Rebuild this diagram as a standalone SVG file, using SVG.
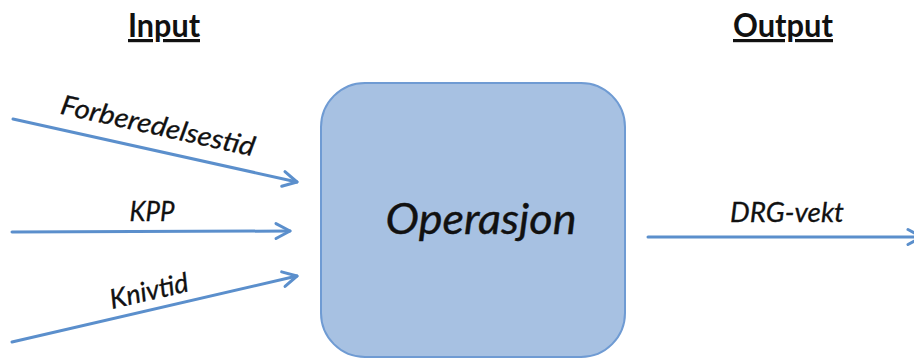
<svg xmlns="http://www.w3.org/2000/svg" width="914" height="359" viewBox="0 0 914 359">
  <style>
    .title { font-family: Lato, "Liberation Sans", sans-serif; font-weight: bold; font-size: 32px; fill: #111; text-decoration: underline; }
    .label { font-family: Lato, "Liberation Sans", sans-serif; font-style: italic; font-size: 27px; fill: #111; stroke: #111; stroke-width: 0.3; }
    .big { font-family: Lato, "Liberation Sans", sans-serif; font-style: italic; font-size: 43px; fill: #111; stroke: #111; stroke-width: 0.4; }
    .conn { stroke: #5b8fcc; stroke-width: 3; fill: none; stroke-linecap: round; }
    .box { fill: #a7c1e2; stroke: #6f9bd3; stroke-width: 2; }
  </style>
  <defs>
    <marker id="arrow" markerUnits="userSpaceOnUse" markerWidth="30" markerHeight="30" viewBox="-20 -15 30 30" refX="0" refY="0" orient="auto" overflow="visible">
      <path d="M-14,-7.5 L0,0 L-14,7.5" fill="none" stroke="#5b8fcc" stroke-width="3" stroke-linecap="round" stroke-linejoin="round"/>
    </marker>
  </defs>
  <rect width="914" height="359" fill="#ffffff"/>

  <g id="title-input">
    <text class="title" x="164" y="37" text-anchor="middle" textLength="72" lengthAdjust="spacingAndGlyphs">Input</text>
  </g>
  <g id="title-output">
    <text class="title" x="783" y="37" text-anchor="middle" textLength="100" lengthAdjust="spacingAndGlyphs">Output</text>
  </g>

  <g id="node-operasjon">
    <rect class="box" x="321" y="83" width="304" height="274" rx="44" ry="44"/>
    <text class="big" x="481" y="234" text-anchor="middle" textLength="191" lengthAdjust="spacingAndGlyphs">Operasjon</text>
  </g>

  <g id="connectors">
    <line class="conn" x1="13" y1="119" x2="297" y2="182" marker-end="url(#arrow)"/>
    <line class="conn" x1="12" y1="232" x2="290" y2="231" marker-end="url(#arrow)"/>
    <line class="conn" x1="12" y1="342" x2="297" y2="276" marker-end="url(#arrow)"/>
    <line class="conn" x1="648" y1="237" x2="922" y2="237" marker-end="url(#arrow)"/>
  </g>

  <g id="labels">
    <text class="label" x="156" y="135" text-anchor="middle" textLength="198" lengthAdjust="spacingAndGlyphs" transform="rotate(12.5 156 135)">Forberedelsestid</text>
    <text class="label" x="152" y="221" text-anchor="middle" textLength="45" lengthAdjust="spacingAndGlyphs">KPP</text>
    <text class="label" x="151" y="300" text-anchor="middle" textLength="80" lengthAdjust="spacingAndGlyphs" transform="rotate(-13 151 300)">Knivtid</text>
    <text class="label" x="787" y="222" text-anchor="middle" textLength="114" lengthAdjust="spacingAndGlyphs">DRG-vekt</text>
  </g>
</svg>
